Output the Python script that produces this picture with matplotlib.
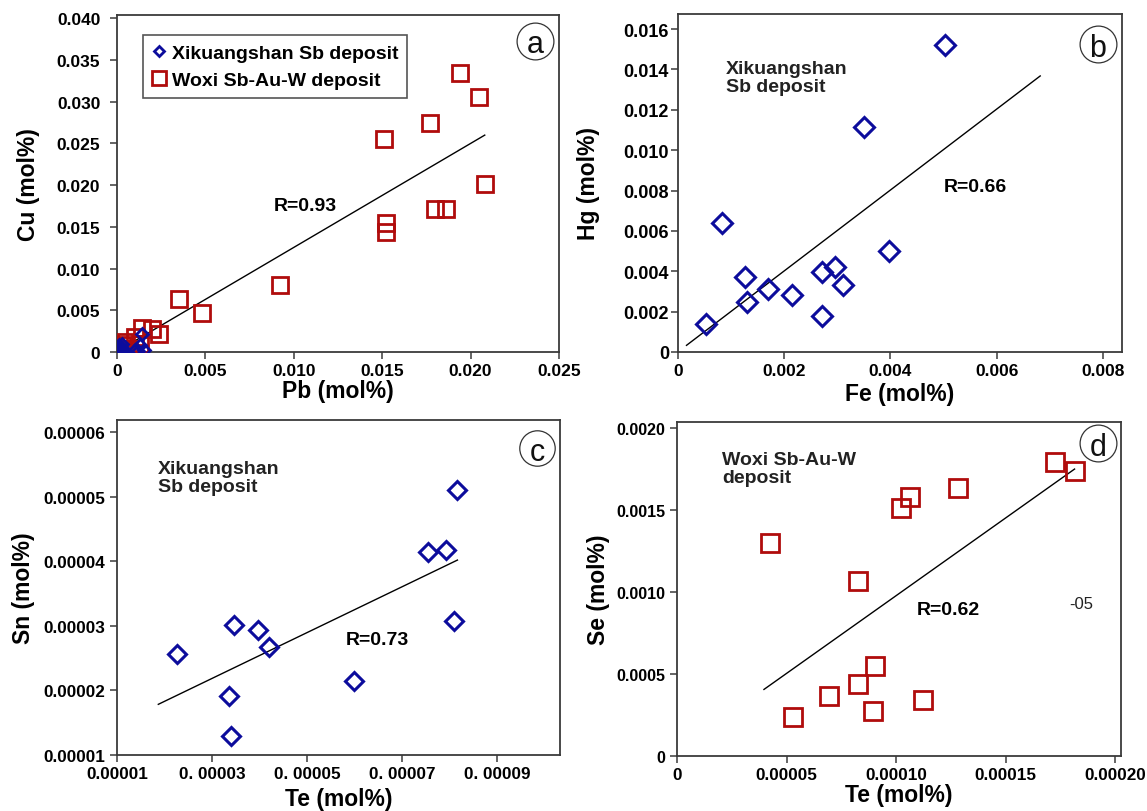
import matplotlib
matplotlib.use("Agg")
import matplotlib.pyplot as plt
from matplotlib.ticker import FixedLocator

plt.rcParams['font.family'] = ['Liberation Sans', 'DejaVu Sans']

BLUE = '#0c0c9c'
RED = '#b00c0c'
SPINE = '#3a3a3a'

# ---------------- data ----------------
# Panel a: Cu vs Pb
woxi_pb = [0.0194, 0.0205, 0.0177, 0.0151, 0.0208, 0.0180, 0.0186, 0.0152, 0.0152, 0.0092, 0.0035, 0.0048,
           0.0014, 0.0020, 0.0024, 0.0010, 0.0003, 0.0001, 0.0007, 0.0013, 0.0005]
woxi_cu = [0.0334, 0.0306, 0.0275, 0.0255, 0.0201, 0.0172, 0.0172, 0.0155, 0.0144, 0.0080, 0.0063, 0.0047,
           0.0029, 0.0027, 0.0022, 0.0018, 0.0008, 0.0000, 0.0003, 0.0009, 0.0012]
xik_pb = [0.0000, 0.0001, 0.0002, 0.0001, 0.0003, 0.0000, 0.0002, 0.0004, 0.0010, 0.0012, 0.0013, 0.0015, 0.0014, 0.0003]
xik_cu = [0.0002, 0.0005, 0.0001, 0.0008, 0.0003, 0.0000, 0.0006, 0.0002, 0.0002, 0.0001, 0.0008, 0.0002, 0.0021, 0.0010]
fit_a_x = [0.0001, 0.0208]
fit_a_y = [0.0002, 0.0260]

# Panel b: Hg vs Fe (Xikuangshan)
xik_fe = [0.00502, 0.00351, 0.00083, 0.00397, 0.00126, 0.00271, 0.00296, 0.00310, 0.00170, 0.00214, 0.00129, 0.00271, 0.00052]
xik_hg = [0.01521, 0.01114, 0.00638, 0.00501, 0.00373, 0.00398, 0.00423, 0.00332, 0.00310, 0.00282, 0.00249, 0.00179, 0.00141]
fit_b_x = [0.00016, 0.00682]
fit_b_y = [0.00033, 0.01368]

# Panel c: Sn vs Te (Xikuangshan)
xik_te = [8.16e-5, 7.55e-5, 7.92e-5, 8.10e-5, 3.46e-5, 3.98e-5, 4.20e-5, 2.26e-5, 6.00e-5, 3.35e-5, 3.40e-5]
xik_sn = [5.10e-5, 4.14e-5, 4.18e-5, 3.08e-5, 3.02e-5, 2.94e-5, 2.68e-5, 2.56e-5, 2.15e-5, 1.92e-5, 1.29e-5]
fit_c_x = [1.87e-5, 8.17e-5]
fit_c_y = [1.785e-5, 4.02e-5]

# Panel d: Se vs Te (Woxi)
woxi_te = [0.0001724, 0.0001815, 0.0001281, 0.0001066, 0.0001021, 0.0000423, 0.0000826, 0.0000906,
           0.0000826, 0.0000694, 0.0001121, 0.0000893, 0.0000529]
woxi_se = [0.001795, 0.001736, 0.001633, 0.001578, 0.001513, 0.001300, 0.001065, 0.000550,
           0.000442, 0.000367, 0.000341, 0.000274, 0.000239]
fit_d_x = [0.0000397, 0.0001815]
fit_d_y = [0.000406, 0.001750]

# tick values / labels
a_xt = [0, 0.005, 0.010, 0.015, 0.020, 0.025]
a_xl = ['0', '0.005', '0.010', '0.015', '0.020', '0.025']
a_yt = [0, 0.005, 0.010, 0.015, 0.020, 0.025, 0.030, 0.035, 0.040]
a_yl = ['0', '0.005', '0.010', '0.015', '0.020', '0.025', '0.030', '0.035', '0.040']
b_xt = [0, 0.002, 0.004, 0.006, 0.008]
b_xl = ['0', '0.002', '0.004', '0.006', '0.008']
b_yt = [0, 0.002, 0.004, 0.006, 0.008, 0.010, 0.012, 0.014, 0.016]
b_yl = ['0', '0.002', '0.004', '0.006', '0.008', '0.010', '0.012', '0.014', '0.016']
c_xt = [0.00001, 0.00003, 0.00005, 0.00007, 0.00009]
c_xl = ['0.00001', '0. 00003', '0. 00005', '0. 00007', '0. 00009']
c_yt = [0.00001, 0.00002, 0.00003, 0.00004, 0.00005, 0.00006]
c_yl = ['0.00001', '0.00002', '0.00003', '0.00004', '0.00005', '0.00006']
d_xt = [0, 0.00005, 0.00010, 0.00015, 0.00020]
d_xl = ['0', '0.00005', '0.00010', '0.00015', '0.00020']
d_yt = [0, 0.0005, 0.0010, 0.0015, 0.0020]
d_yl = ['0', '0.0005', '0.0010', '0.0015', '0.0020']

# ---------------- figure ----------------
fig = plt.figure(figsize=(11.47, 8.12), dpi=100)
W, H = 1147, 812

def make_ax(l, r, t, b):
    return fig.add_axes([l / W, 1 - b / H, (r - l) / W, (b - t) / H])

ax_a = make_ax(117, 559, 16, 353)
ax_b = make_ax(678, 1122, 15, 353)
ax_c = make_ax(117, 560, 421, 756)
ax_d = make_ax(677, 1121, 423, 757)

LABEL_FS = 16.5
TEXT_FS = 14


def style(ax, xt, xl, yt, yl, xlim, ylim, xlabel, ylabel, xlab_y, ylab_x,
          xfs=12.5, yfs=12.5, ypad=4):
    ax.set_xlim(*xlim)
    ax.set_ylim(*ylim)
    ax.xaxis.set_major_locator(FixedLocator(xt))
    ax.yaxis.set_major_locator(FixedLocator(yt))
    ax.set_xticklabels(xl, fontsize=xfs, fontweight='bold')
    ax.set_yticklabels(yl, fontsize=yfs, fontweight='bold')
    ax.tick_params(direction='out', length=5, width=1.1, color=SPINE)
    ax.tick_params(axis='x', pad=3)
    ax.tick_params(axis='y', pad=ypad)
    for s in ax.spines.values():
        s.set_color(SPINE)
        s.set_linewidth(1.3)
    ax.set_xlabel(xlabel, fontsize=LABEL_FS, fontweight='bold')
    ax.set_ylabel(ylabel, fontsize=LABEL_FS, fontweight='bold')
    ax.xaxis.set_label_coords(0.5, xlab_y)
    ax.yaxis.set_label_coords(ylab_x, 0.5)


def circ_label(ax, x, y, letter, ms=26.5):
    ax.plot([x], [y], 'o', ms=ms, mfc='white', mec='#333333', mew=0.9,
            transform=ax.transAxes, clip_on=False, zorder=6)
    ax.text(x, y, letter, ha='center', va='center_baseline', fontsize=22,
            transform=ax.transAxes, zorder=7, color='#111111')


# Panel a
ax = ax_a
ax.plot(fit_a_x, fit_a_y, color='black', lw=1.0, zorder=2)
ax.plot(woxi_pb, woxi_cu, 's', ms=12, mfc='none', mec=RED, mew=2.0, zorder=3,
        label='Woxi Sb-Au-W deposit')
ax.plot(xik_pb, xik_cu, 'D', ms=6.5, mfc='none', mec=BLUE, mew=2.0, zorder=4,
        label='Xikuangshan Sb deposit')
ax.text(0.00885, 0.0176, 'R=0.93', fontsize=TEXT_FS, fontweight='bold', va='center')
style(ax, a_xt, a_xl, a_yt, a_yl, (0, 0.025), (0, 0.0404), 'Pb (mol%)', 'Cu (mol%)',
      -0.08, -0.174, ypad=7)
h, l = ax.get_legend_handles_labels()
leg = ax.legend(h[::-1], l[::-1], loc='upper left', bbox_to_anchor=(0.058, 0.94),
                prop={'weight': 'bold', 'size': 14}, fancybox=False, framealpha=1,
                edgecolor='#555555', handlelength=0.8, handletextpad=0.25,
                borderpad=0.45, labelspacing=0.5, borderaxespad=0, markerscale=0.85)
leg.get_frame().set_linewidth(1.2)
circ_label(ax, 0.946, 0.923, 'a', ms=26.5)

# Panel b
ax = ax_b
ax.plot(fit_b_x, fit_b_y, color='black', lw=1.0, zorder=2)
ax.plot(xik_fe, xik_hg, 'D', ms=10.5, mfc='none', mec=BLUE, mew=2.2, zorder=3)
ax.text(0.0050, 0.0082, 'R=0.66', fontsize=TEXT_FS, fontweight='bold', va='center')
ax.text(0.108, 0.865, 'Xikuangshan\nSb deposit', transform=ax.transAxes, fontsize=TEXT_FS,
        fontweight='bold', va='top', ha='left', linespacing=1.1, color='#222222')
style(ax, b_xt, b_xl, b_yt, b_yl, (0, 0.00836), (0, 0.01675), 'Fe (mol%)', 'Hg (mol%)',
      -0.09, -0.176, yfs=13, ypad=1.5)
circ_label(ax, 0.945, 0.911, 'b')

# Panel c
ax = ax_c
ax.plot(fit_c_x, fit_c_y, color='black', lw=1.0, zorder=2)
ax.plot(xik_te, xik_sn, 'D', ms=8.7, mfc='none', mec=BLUE, mew=2.2, zorder=3)
ax.text(5.82e-5, 2.79e-5, 'R=0.73', fontsize=TEXT_FS, fontweight='bold', va='center')
ax.text(0.093, 0.88, 'Xikuangshan\nSb deposit', transform=ax.transAxes, fontsize=TEXT_FS,
        fontweight='bold', va='top', ha='left', linespacing=1.1, color='#222222')
style(ax, c_xt, c_xl, c_yt, c_yl, (0.00001, 0.0001033), (0.00001, 0.0000619),
      'Te (mol%)', 'Sn (mol%)', -0.095, -0.185, xfs=12.3, yfs=12.3, ypad=3.5)
circ_label(ax, 0.948, 0.916, 'c', ms=25.5)

# Panel d
ax = ax_d
ax.plot(fit_d_x, fit_d_y, color='black', lw=1.0, zorder=2)
ax.plot(woxi_te, woxi_se, 's', ms=13, mfc='none', mec=RED, mew=2.0, zorder=3)
ax.text(0.0001096, 0.000893, 'R=0.62', fontsize=TEXT_FS, fontweight='bold', va='center')
ax.text(0.000179, 0.000933, '-05', fontsize=12, va='center', color='#222222')
ax.text(0.101, 0.913, 'Woxi Sb-Au-W\ndeposit', transform=ax.transAxes, fontsize=TEXT_FS,
        fontweight='bold', va='top', ha='left', linespacing=1.1, color='#222222')
style(ax, d_xt, d_xl, d_yt, d_yl, (0, 0.0002027), (0, 0.002037), 'Te (mol%)', 'Se (mol%)',
      -0.082, -0.151, xfs=12.3, yfs=11.5, ypad=3.5)
circ_label(ax, 0.949, 0.937, 'd')

fig.savefig('out.png', dpi=100, facecolor='white')
